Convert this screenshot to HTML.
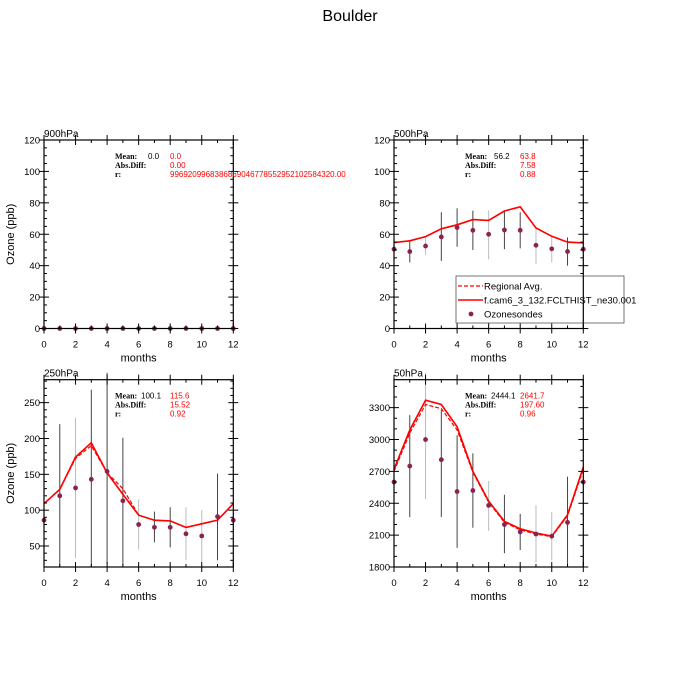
<!DOCTYPE html>
<html><head><meta charset="utf-8"><style>
html,body{margin:0;padding:0;background:#fff}
svg{display:block}
text{font-family:"Liberation Sans",sans-serif}
.st{font-family:"Liberation Serif",serif;font-size:8px;font-weight:bold}
.sv{font-family:"Liberation Sans",sans-serif;font-size:8px}
</style></head><body>
<svg id="s" width="700" height="700" xmlns="http://www.w3.org/2000/svg">
<text x="350" y="21" font-size="16" text-anchor="middle">Boulder</text>
</svg>
<script>
const S=document.getElementById('s');const NS='http://www.w3.org/2000/svg';
function el(t,a,txt){const e=document.createElementNS(NS,t);for(const k in a)e.setAttribute(k,a[k]);if(txt!==undefined)e.textContent=txt;S.appendChild(e);return e;}
function panel(o){
 const x0=o.x0,x1=x0+189.3,yt=o.yt,yb=o.yb;
 const X=m=>x0+m*(x1-x0)/12, Y=v=>yb-(v-o.ymin)*(yb-yt)/(o.ymax-o.ymin);
 if(o.bars)o.bars.forEach((b,i)=>{if(!b)return;const lt=o.light.includes(i+1);
  el('line',{x1:X(i+1),x2:X(i+1),y1:Y(Math.max(b[0],o.ymin)),y2:Y(Math.min(b[1],o.ymax))-(b[1]>o.ymax?7:0),stroke:lt?'#bbb':'#444','stroke-width':1});});
 const pts=a=>a.map((v,i)=>X(i).toFixed(1)+','+Y(v).toFixed(1)).join(' ');
 if(o.dash)el('polyline',{points:pts(o.dash),fill:'none',stroke:'#f00','stroke-width':1.2,'stroke-dasharray':'4,2'});
 if(o.model)el('polyline',{points:pts(o.model),fill:'none',stroke:'#f00','stroke-width':1.6});
 o.obs.forEach((v,i)=>el('circle',{cx:X(i),cy:Y(v),r:2.4,fill:'#8b2252'}));
 el('rect',{x:x0,y:yt,width:x1-x0,height:yb-yt,fill:'none',stroke:'#000','stroke-width':1.2});
 for(let v=o.minorStart;v<=o.ymax+1e-6;v+=o.minor){const y=Y(v);if(y<yt-0.5||y>yb+0.5)continue;
  const maj=Math.abs(((v-o.majStart)/o.major)-Math.round((v-o.majStart)/o.major))<1e-6;
  const L=maj?5:3;
  el('line',{x1:x0-(maj?5:0),x2:x0+L,y1:y,y2:y,stroke:'#000','stroke-width':1});
  el('line',{x1:x1-L,x2:x1+(maj?5:0),y1:y,y2:y,stroke:'#000','stroke-width':1});
  if(maj)el('text',{x:x0-4,y:y+3.5,'font-size':9.5,'text-anchor':'end'},String(v));}
 for(let m=0;m<=12;m++){const x=X(m),maj=m%2==0,L=maj?5:3;
  el('line',{x1:x,x2:x,y1:yb-L,y2:yb+(maj?5:0),stroke:'#000','stroke-width':1});
  el('line',{x1:x,x2:x,y1:yt-(maj?5:0),y2:yt+L,stroke:'#000','stroke-width':1});
  if(maj)el('text',{x:x,y:yb+19,'font-size':9.5,'text-anchor':'middle'},String(m));}
 el('text',{x:(x0+x1)/2,y:yb+33,'font-size':11,'text-anchor':'middle'},'months');
 el('text',{x:x0,y:yt-3,'font-size':10},o.title);
 if(o.ylab){const cy=(yt+yb)/2;el('text',{x:14,y:cy,'font-size':11,'text-anchor':'middle',transform:'rotate(-90 14 '+cy+')'},'Ozone (ppb)');}
 const sx=x0+71,sy=yt+19;
 el('text',{x:sx,y:sy,class:'st'},'Mean:');el('text',{x:sx,y:sy+9,class:'st'},'Abs.Diff:');el('text',{x:sx,y:sy+18,class:'st'},'r:');
 el('text',{x:sx+o.mx,y:sy,class:'sv'},o.m1);
 el('text',{x:x0+126,y:sy,class:'sv',fill:'#f00'},o.m2);
 el('text',{x:x0+126,y:sy+9,class:'sv',fill:'#f00'},o.ad);
 el('text',{x:x0+126,y:sy+18,class:'sv',fill:'#f00'},o.r);
}
const L=[2,6,9,10];
panel({x0:44,yt:140,yb:328.5,ymin:0,ymax:120,major:20,majStart:0,minor:5,minorStart:0,title:'900hPa',ylab:1,
 obs:[0,0,0,0,0,0,0,0,0,0,0,0,0],light:[],mx:33,m1:'0.0',m2:'0.0',ad:'0.00',r:'9969209968386869046778552952102584320.00'});
panel({x0:394,yt:140,yb:328.5,ymin:0,ymax:120,major:20,majStart:0,minor:5,minorStart:0,title:'500hPa',
 model:[54.7,55.8,58.5,63.5,66,69.3,68.8,74.8,77.5,64,58.7,55,54.5],dash:[54.7,55.8,58.5,63.5,66,69.3,68.8,74.8,77.5,64,58.7,55,54.5],
 obs:[50.5,49,52.5,58.3,64.3,62.5,60,62.7,62.5,53,50.7,49,50.5],
 bars:[[42,56],[47,58],[43,74],[52,76.5],[50,75],[44,75],[50.5,75],[51,74],[41,64],[42,59],[40,58]],light:L,mx:29,m1:'56.2',m2:'63.8',ad:'7.58',r:'0.88'});
panel({x0:44,yt:379.7,yb:567,ymin:20.7,ymax:282,major:50,majStart:0,minor:10,minorStart:30,title:'250hPa',ylab:1,
 model:[109,129,174,194,152,122,93,86,85,76,81,86,109],dash:[109,129,172,190,152,130,93,86,85,76,81,86,109],
 obs:[86,120,131,143,154,113,80,76,76,67,64,91,86],
 bars:[[20,220],[33,229],[20,268],[25,300],[23,201],[45,115],[55,98],[48,104],[30,104],[28,100],[30,151]],light:L,mx:26,m1:'100.1',m2:'115.6',ad:'15.52',r:'0.92'});
panel({x0:394,yt:379.7,yb:567,ymin:1800,ymax:3563,major:300,majStart:1800,minor:100,minorStart:1800,title:'50hPa',
 model:[2720,3090,3370,3330,3120,2700,2420,2230,2160,2120,2090,2290,2740],dash:[2700,3060,3330,3290,3090,2690,2410,2220,2150,2110,2085,2280,2720],
 obs:[2600,2750,3000,2810,2510,2520,2380,2200,2130,2110,2090,2220,2600],
 bars:[[2270,3230],[2440,3700],[2270,3280],[1980,3040],[2170,2870],[2140,2610],[1930,2480],[1960,2300],[1840,2380],[1860,2320],[1700,2650]],light:L,mx:26,m1:'2444.1',m2:'2641.7',ad:'197.60',r:'0.96'});
el('rect',{x:456,y:276,width:168,height:47,fill:'#fff',stroke:'#555','stroke-width':0.8});
el('line',{x1:458,x2:483,y1:286,y2:286,stroke:'#f00','stroke-width':1.2,'stroke-dasharray':'4,2'});
el('text',{x:484,y:289.5,'font-size':9.5},'Regional Avg.');
el('line',{x1:458,x2:483,y1:300,y2:300,stroke:'#f00','stroke-width':1.6});
el('text',{x:484,y:303.5,'font-size':9.5},'f.cam6_3_132.FCLTHIST_ne30.001');
el('circle',{cx:471,cy:314,r:2.4,fill:'#8b2252'});
el('text',{x:484,y:317.5,'font-size':9.5},'Ozonesondes');
el('line',{x1:583.3,x2:583.3,y1:276,y2:323,stroke:'#000','stroke-width':1.2});
</script>
</body></html>
